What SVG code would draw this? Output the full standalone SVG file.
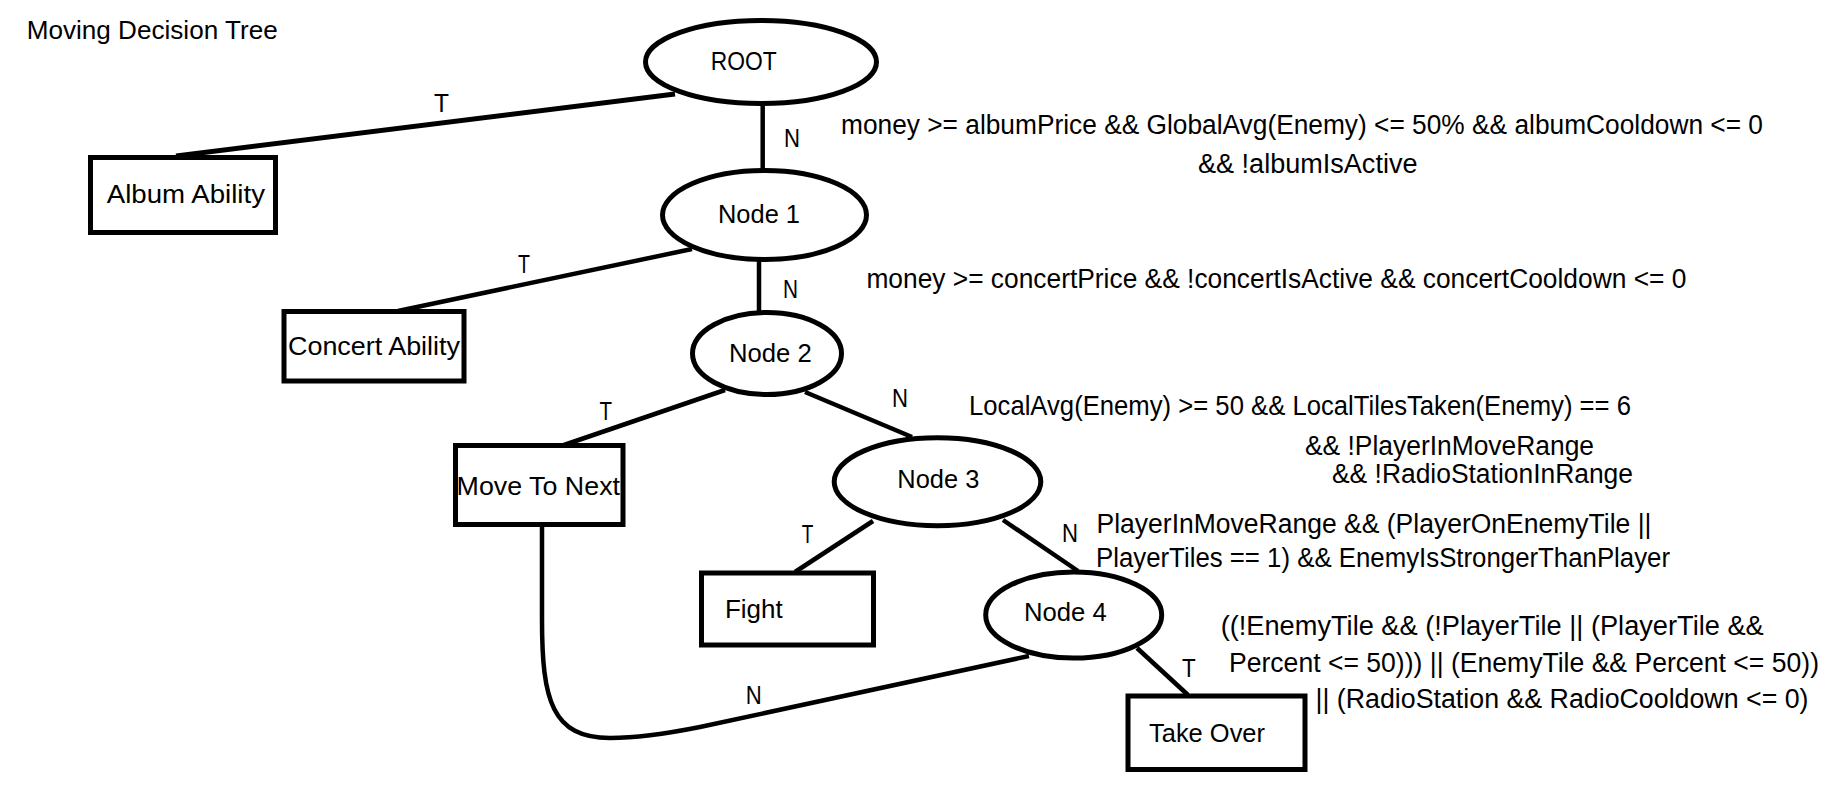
<svg xmlns="http://www.w3.org/2000/svg" width="1841" height="790" viewBox="0 0 1841 790">
<style>
  .nd { fill: #ffffff; stroke: #000000; stroke-width: 5; }
  .bx { fill: #ffffff; stroke: #000000; stroke-width: 5; }
  .ed { fill: none; stroke: #000000; stroke-width: 4.5; stroke-linecap: butt; }
  text { font-family: "Liberation Sans", Arial, sans-serif; fill: #000000; }
  .lb { font-size: 25.5px; }
  .tn { font-size: 25px; }
  .cd { font-size: 27px; }
</style>
<rect x="0" y="0" width="1841" height="790" fill="#ffffff"/>
<text class="lb" x="26.7" y="39" textLength="251" lengthAdjust="spacingAndGlyphs">Moving Decision Tree</text>

<g id="connectors">
  <path class="ed" style="stroke-width:5" d="M 675 94 L 176 156"/>
  <path class="ed" d="M 762.7 104 L 762.7 171"/>
  <path class="ed" d="M 692 249 L 398 311"/>
  <path class="ed" d="M 759 259 L 759 312"/>
  <path class="ed" d="M 725 390 L 564 445"/>
  <path class="ed" d="M 805 392 L 912 437"/>
  <path class="ed" d="M 873 521 L 795 572"/>
  <path class="ed" d="M 1003 520 L 1078 571"/>
  <path class="ed" d="M 1137 648 L 1188 695"/>
  <path class="ed" d="M 542 525 L 542 620 C 542 700 552 738 610 738 C 640 738 670 733 700 727 L 1029 656"/>
  <text class="tn" x="434" y="111.7" textLength="15" lengthAdjust="spacingAndGlyphs">T</text>
  <text class="tn" x="784" y="146.7" textLength="16" lengthAdjust="spacingAndGlyphs">N</text>
  <text class="tn" x="518" y="273.3" textLength="12" lengthAdjust="spacingAndGlyphs">T</text>
  <text class="tn" x="783" y="298" textLength="15" lengthAdjust="spacingAndGlyphs">N</text>
  <text class="tn" x="599.5" y="420" textLength="12.5" lengthAdjust="spacingAndGlyphs">T</text>
  <text class="tn" x="892" y="406.7" textLength="16" lengthAdjust="spacingAndGlyphs">N</text>
  <text class="tn" x="801.7" y="542.7" textLength="11.6" lengthAdjust="spacingAndGlyphs">T</text>
  <text class="tn" x="1062" y="541.7" textLength="16" lengthAdjust="spacingAndGlyphs">N</text>
  <text class="tn" x="1182" y="676.7" textLength="13.7" lengthAdjust="spacingAndGlyphs">T</text>
  <text class="tn" x="745.7" y="704" textLength="16" lengthAdjust="spacingAndGlyphs">N</text>
</g>

<g id="root">
  <ellipse class="nd" cx="761" cy="62" rx="115.5" ry="41.5"/>
  <text class="lb" x="710.7" y="70" textLength="66" lengthAdjust="spacingAndGlyphs">ROOT</text>
</g>
<g id="node1">
  <ellipse class="nd" cx="764.5" cy="215" rx="102" ry="44.5"/>
  <text class="lb" x="718" y="222.7" textLength="82" lengthAdjust="spacingAndGlyphs">Node 1</text>
</g>
<g id="node2">
  <ellipse class="nd" cx="767" cy="353.5" rx="74.5" ry="41"/>
  <text class="lb" x="729" y="361.7" textLength="82.7" lengthAdjust="spacingAndGlyphs">Node 2</text>
</g>
<g id="node3">
  <ellipse class="nd" cx="937.5" cy="481.7" rx="103.3" ry="44"/>
  <text class="lb" x="897.3" y="488.3" textLength="82" lengthAdjust="spacingAndGlyphs">Node 3</text>
</g>
<g id="node4">
  <ellipse class="nd" cx="1073.7" cy="615" rx="88" ry="43"/>
  <text class="lb" x="1024" y="620.7" textLength="82.7" lengthAdjust="spacingAndGlyphs">Node 4</text>
</g>
<g id="album-ability">
  <rect class="bx" x="90.5" y="157.5" width="185" height="75"/>
  <text class="lb" x="106.7" y="203.3" textLength="158.3" lengthAdjust="spacingAndGlyphs">Album Ability</text>
</g>
<g id="concert-ability">
  <rect class="bx" x="284" y="311.5" width="180" height="69.5"/>
  <text class="lb" x="288" y="355" textLength="172" lengthAdjust="spacingAndGlyphs">Concert Ability</text>
</g>
<g id="move-to-next">
  <rect class="bx" x="455.5" y="445.5" width="167.5" height="79"/>
  <text class="lb" x="456.6" y="495" textLength="163.4" lengthAdjust="spacingAndGlyphs">Move To Next</text>
</g>
<g id="fight">
  <rect class="bx" x="701.5" y="573" width="172" height="72"/>
  <text class="lb" x="725" y="618.3" textLength="57.7" lengthAdjust="spacingAndGlyphs">Fight</text>
</g>
<g id="take-over">
  <rect class="bx" x="1128" y="696" width="177" height="73.5"/>
  <text class="lb" x="1149" y="741.7" textLength="116" lengthAdjust="spacingAndGlyphs">Take Over</text>
</g>

<g id="conditions">
  <text class="cd" x="841" y="134" textLength="922" lengthAdjust="spacingAndGlyphs">money &gt;= albumPrice &amp;&amp; GlobalAvg(Enemy) &lt;= 50% &amp;&amp; albumCooldown &lt;= 0</text>
  <text class="cd" x="1198" y="172.7" textLength="219.5" lengthAdjust="spacingAndGlyphs">&amp;&amp; !albumIsActive</text>
  <text class="cd" x="866.4" y="288.3" textLength="820" lengthAdjust="spacingAndGlyphs">money &gt;= concertPrice &amp;&amp; !concertIsActive &amp;&amp; concertCooldown &lt;= 0</text>
  <text class="cd" x="969" y="415" textLength="662" lengthAdjust="spacingAndGlyphs">LocalAvg(Enemy) &gt;= 50 &amp;&amp; LocalTilesTaken(Enemy) == 6</text>
  <text class="cd" x="1305" y="455" textLength="289" lengthAdjust="spacingAndGlyphs">&amp;&amp; !PlayerInMoveRange</text>
  <text class="cd" x="1332" y="483.3" textLength="301" lengthAdjust="spacingAndGlyphs">&amp;&amp; !RadioStationInRange</text>
  <text class="cd" x="1096.5" y="532.5" textLength="555" lengthAdjust="spacingAndGlyphs">PlayerInMoveRange &amp;&amp; (PlayerOnEnemyTile ||</text>
  <text class="cd" x="1096" y="567.3" textLength="574" lengthAdjust="spacingAndGlyphs">PlayerTiles == 1) &amp;&amp; EnemyIsStrongerThanPlayer</text>
  <text class="cd" x="1220.7" y="635" textLength="543" lengthAdjust="spacingAndGlyphs">((!EnemyTile &amp;&amp; (!PlayerTile || (PlayerTile &amp;&amp;</text>
  <text class="cd" x="1229" y="671.5" textLength="590" lengthAdjust="spacingAndGlyphs">Percent &lt;= 50))) || (EnemyTile &amp;&amp; Percent &lt;= 50))</text>
  <text class="cd" x="1315.5" y="708.3" textLength="493" lengthAdjust="spacingAndGlyphs">|| (RadioStation &amp;&amp; RadioCooldown &lt;= 0)</text>
</g>
</svg>
